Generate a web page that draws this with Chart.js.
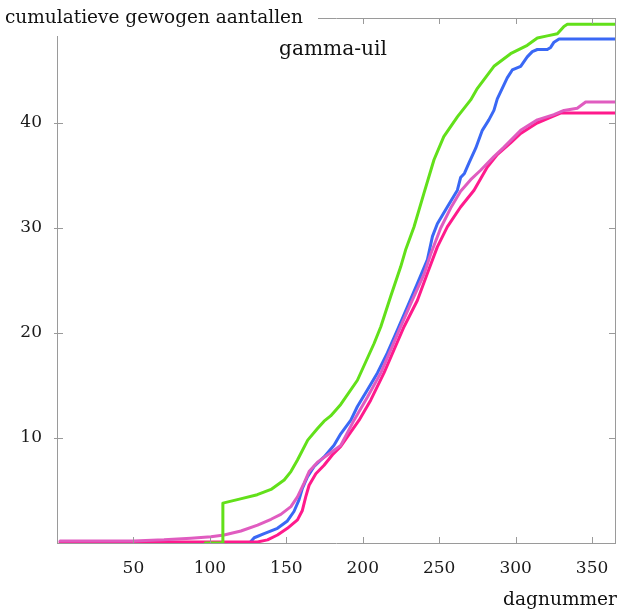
<!DOCTYPE html>
<html><head><meta charset="utf-8">
<script src="https://cdn.jsdelivr.net/npm/chart.js@4.4.1/dist/chart.umd.min.js"></script>
<style>html,body{margin:0;padding:0;background:#fff;}#wrap{width:621px;height:612px;}</style>
</head><body><div id="wrap"><canvas id="c" width="621" height="612"></canvas></div>
<script>
// ---- data ----
const greenDays   = [97,108,108.5,120,131,140,148.6,153,157.3,164,170.4,174.7,179,185.6,196.5,207.4,211.8,218.3,224.8,228,233.5,240,246.6,253,262,270.6,275,285.8,296.7,307.6,314.2,320.7,327.3,331.6,333.8,365];
const greenValues = [0,0,3.8,4.2,4.6,5.1,6.0,6.8,7.9,9.8,10.9,11.6,12.1,13.2,15.5,19.0,20.6,23.5,26.3,27.9,30.1,33.3,36.5,38.7,40.6,42.2,43.3,45.4,46.6,47.4,48.1,48.3,48.5,49.2,49.4,49.4];

const blueDays   = [100,126,129,135.5,144.2,150.7,155,158.3,160.5,163.8,168.2,174.7,181.2,185.6,192.2,196.5,203.1,209.6,216.1,222.7,229.2,235.7,242.3,245.6,248.8,255.3,261.9,264,266.5,269.5,273.9,278.2,282.5,285.8,288,294.5,297.8,303.3,307.6,310.9,314.2,320.7,322.9,325.1,328.4,365];
const blueValues = [0,0,0.5,0.9,1.4,2.1,3.0,4.1,5.2,6.3,7.3,8.2,9.3,10.4,11.7,13.0,14.6,16.2,18.1,20.3,22.5,24.7,27.0,29.2,30.4,32.0,33.6,34.8,35.2,36.2,37.6,39.3,40.3,41.2,42.3,44.3,45.05,45.4,46.3,46.8,47.0,47.0,47.2,47.7,48.0,48.0];

const orchidDays   = [2,50,70,87.6,100.7,109.3,120.3,131.2,140,146.4,153,157.3,161.6,164.9,170.4,179,185.6,194.3,203.1,211.8,218.3,224.8,231.4,240.1,244.4,251,257.5,264,270.6,277.1,285.8,292.4,303.3,314.2,325,331.6,340.3,345.8,365];
const orchidValues = [0.2,0.2,0.3,0.45,0.6,0.76,1.14,1.71,2.26,2.73,3.46,4.4,5.7,6.8,7.7,8.6,9.3,11.7,13.9,16.2,18.4,20.6,22.8,25.6,27.5,30.0,31.9,33.5,34.6,35.5,36.8,37.7,39.3,40.3,40.8,41.2,41.4,42.0,42.0];

const magentaDays   = [2,127,131.2,137.7,144.2,150.7,157.3,160.5,162.7,164.9,169.3,174.7,180.2,185.6,197.6,205.2,213.9,220.4,227,235.7,242.3,248.8,255.3,264,272.8,281.5,288,296.7,303.3,314,322,329.4,365];
const magentaValues = [0.1,0.1,0.1,0.3,0.76,1.4,2.2,3.1,4.4,5.5,6.6,7.4,8.4,9.2,11.7,13.6,16.2,18.4,20.6,23.1,25.7,28.2,30.1,32.0,33.6,35.8,37.0,38.1,39.0,40.0,40.5,40.95,40.95];

const xTickValues = [50,100,150,200,250,300,350];
const yTickValues = [10,20,30,40];
const yAxisTitle = 'cumulatieve gewogen aantallen';
const chartTitle = 'gamma-uil';
const xAxisTitle = 'dagnummer';

// ---- build ----
const FONT = '"DejaVu Serif", serif';
const AXIS = '#9a9a9a';
const pts = (xs, ys) => xs.map((x, i) => ({x, y: ys[i]}));
const ds = (data, color, order) => ({
  data, borderColor: color, borderWidth: 3, pointRadius: 0, fill: false,
  tension: 0, order, xAxisID: 'x', yAxisID: 'y', borderJoinStyle: 'round', borderCapStyle: 'round'
});

function fitFont(ctx, text, width) {
  ctx.font = '17px ' + FONT;
  const w = ctx.measureText(text).width;
  return (17 * width / w).toFixed(2) + 'px ' + FONT;
}

const decor = {
  id: 'decor',
  afterDraw(chart) {
    const ctx = chart.ctx, a = chart.chartArea;
    const xs = chart.scales.x, ys = chart.scales.y;
    ctx.save();
    ctx.strokeStyle = AXIS; ctx.lineWidth = 1;
    ctx.beginPath();
    xTickValues.forEach(v => {
      const p = Math.round(xs.getPixelForValue(v)) + 0.5;
      ctx.moveTo(p, a.bottom); ctx.lineTo(p, a.bottom - 6);
      ctx.moveTo(p, a.top); ctx.lineTo(p, a.top + 6);
    });
    yTickValues.forEach(v => {
      const p = Math.round(ys.getPixelForValue(v)) + 0.5;
      ctx.moveTo(a.left - 3, p); ctx.lineTo(a.left + 6, p);
      ctx.moveTo(a.right, p); ctx.lineTo(a.right - 6, p);
    });
    ctx.stroke();
    ctx.fillStyle = '#fff';
    ctx.fillRect(0, 0, 318, 36);
    ctx.fillStyle = '#111';
    ctx.textBaseline = 'middle'; ctx.textAlign = 'left';
    ctx.font = fitFont(ctx, yAxisTitle, 298);
    ctx.fillText(yAxisTitle, 5, 18);
    ctx.textAlign = 'center';
    ctx.font = fitFont(ctx, chartTitle, 108);
    ctx.fillText(chartTitle, 333, 50);
    ctx.textAlign = 'right';
    ctx.font = fitFont(ctx, xAxisTitle, 114);
    ctx.fillText(xAxisTitle, 617, 600);
    ctx.restore();
  }
};

const tickFont = {family: FONT, size: 17};
new Chart(document.getElementById('c'), {
  type: 'line',
  data: {
    datasets: [
      ds(pts(greenDays, greenValues), '#62e01a', 0),
      ds(pts(orchidDays, orchidValues), '#e05cc0', 1),
      ds(pts(magentaDays, magentaValues), '#ff1a8c', 2),
      ds(pts(blueDays, blueValues), '#3a68f5', 3)
    ]
  },
  options: {
    responsive: false, animation: false, devicePixelRatio: 1,
    layout: {padding: 0},
    plugins: {legend: {display: false}, tooltip: {enabled: false}, title: {display: false}},
    scales: {
      x: {
        type: 'linear', position: 'bottom', min: 0, max: 365,
        afterBuildTicks: s => { s.ticks = [0, ...xTickValues].map(v => ({value: v})); },
        ticks: {callback: v => v === 0 ? '' : String(v), font: tickFont, color: '#1a1a1a', padding: 0, maxRotation: 0, autoSkip: false},
        grid: {display: false, drawTicks: true, tickLength: 15},
        border: {display: true, color: AXIS, width: 1},
        afterFit: s => { s.height = 69; }
      },
      y: {
        type: 'linear', position: 'left', min: 0, max: 50,
        afterBuildTicks: s => { s.ticks = yTickValues.map(v => ({value: v})); },
        ticks: {font: tickFont, color: '#1a1a1a', padding: 0},
        grid: {display: false, drawTicks: true, tickLength: 15},
        border: {display: true, color: AXIS, width: 1},
        afterFit: s => { s.width = 57; }
      },
      x2: {
        type: 'linear', position: 'top', min: 0, max: 365,
        ticks: {display: false}, grid: {display: false, drawTicks: false},
        border: {display: true, color: AXIS, width: 1},
        afterFit: s => { s.height = 18; }
      },
      y2: {
        type: 'linear', position: 'right', min: 0, max: 50,
        ticks: {display: false}, grid: {display: false, drawTicks: false},
        border: {display: true, color: AXIS, width: 1},
        afterFit: s => { s.width = 6; }
      }
    }
  },
  plugins: [decor]
});
</script>
</body></html>
